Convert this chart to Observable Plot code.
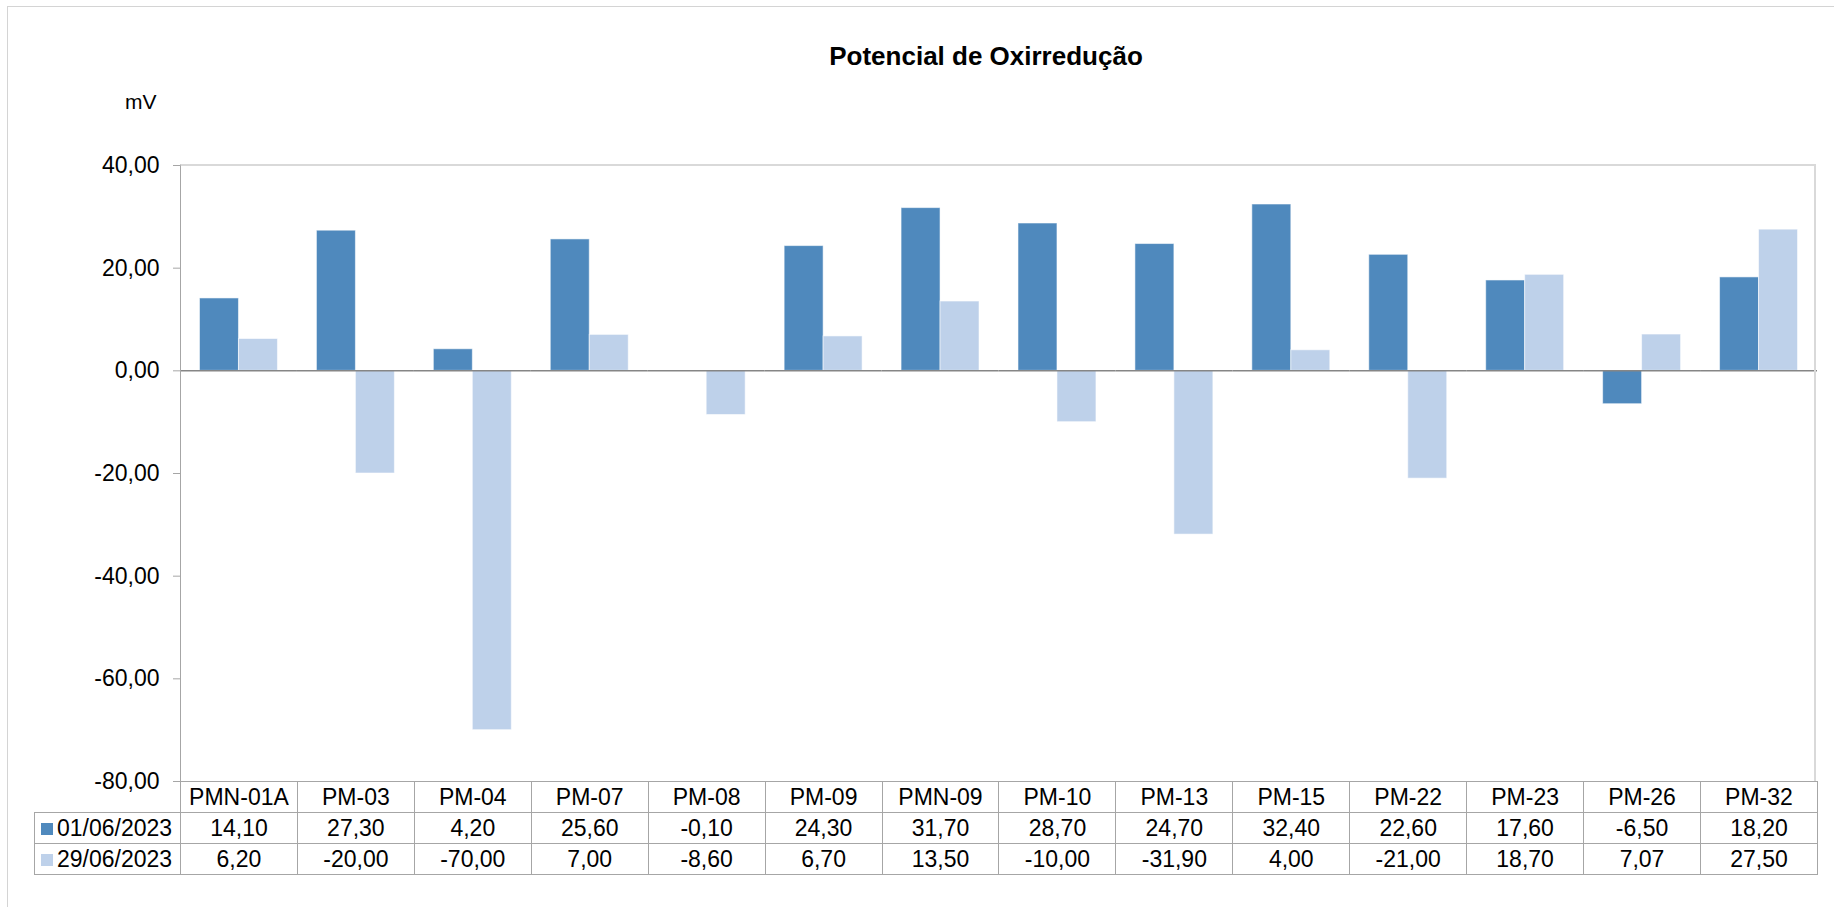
<!DOCTYPE html>
<html>
<head>
<meta charset="utf-8">
<script src="https://cdn.jsdelivr.net/npm/d3@7"></script>
<script src="https://cdn.jsdelivr.net/npm/@observablehq/plot@0.6"></script>
<style>
  html, body { margin: 0; padding: 0; background: #fff; }
  #wrap { position: relative; width: 1834px; height: 907px; overflow: hidden; font-family: "Liberation Sans", Arial, sans-serif; color: #000; }
  #outer { position: absolute; left: 7px; top: 6px; width: 1900px; height: 1000px; border-left: 1px solid #d4d4d4; border-top: 1px solid #d4d4d4; }
  #title { position: absolute; left: 0; width: 1972px; top: 41px; text-align: center; font-weight: bold; font-size: 26px; line-height: 30px; }
  #unit { position: absolute; left: 125px; top: 89px; font-size: 21px; line-height: 26px; }
  #chart { position: absolute; left: 0; top: 0; }
  #frame { position: absolute; left: 180px; top: 164px; width: 1636px; height: 617px; border-top: 2px solid #d9d9d9; border-right: 2px solid #d9d9d9; border-left: 1.5px solid #a6a6a6; box-sizing: border-box; pointer-events: none; }
  #table { position: absolute; left: 34px; top: 781px; border-collapse: collapse; table-layout: fixed; font-size: 23px; }
  #table td { border: 1.5px solid #a6a6a6; text-align: center; padding: 0; height: 30px; line-height: 28px; white-space: nowrap; overflow: hidden; }
  #table td.leg { text-align: left; padding-left: 6px; }
  #table td.corner { border-top: none; border-left: none; }
  .sw { display: inline-block; width: 12px; height: 12px; margin-right: 4px; vertical-align: 1px; }
</style>
</head>
<body>
<div id="wrap">
  <div id="outer"></div>
  <div id="chart"></div>
  <div id="frame"></div>
  <div id="title">Potencial de Oxirredução</div>
  <div id="unit">mV</div>
  <table id="table"></table>
</div>
<script>
const categories = ["PMN-01A","PM-03","PM-04","PM-07","PM-08","PM-09","PMN-09","PM-10","PM-13","PM-15","PM-22","PM-23","PM-26","PM-32"];
const seriesNames = ["01/06/2023","29/06/2023"];
const series1 = [14.10,27.30,4.20,25.60,-0.10,24.30,31.70,28.70,24.70,32.40,22.60,17.60,-6.50,18.20];
const series2 = [6.20,-20.00,-70.00,7.00,-8.60,6.70,13.50,-10.00,-31.90,4.00,-21.00,18.70,7.07,27.50];
const yTicks = [-80,-60,-40,-20,0,20,40];
const colors = ["#4f89bd","#bed1ea"];

const fmt = v => v.toFixed(2).replace(".", ",");

const data = [];
categories.forEach((c, i) => {
  data.push({cat: c, series: seriesNames[0], value: series1[i]});
  data.push({cat: c, series: seriesNames[1], value: series2[i]});
});

const chart = Plot.plot({
  width: 1834,
  height: 907,
  marginTop: 165,
  marginBottom: 126,
  marginLeft: 180,
  marginRight: 17,
  style: {fontFamily: "'Liberation Sans', Arial, sans-serif", fontSize: "23px", color: "#000", background: "transparent"},
  fx: {domain: categories, padding: 0, round: false, axis: null},
  x: {domain: seriesNames, paddingInner: 0, paddingOuter: 0.5, round: false, axis: null},
  y: {domain: [-80, 40], axis: null},
  color: {domain: seriesNames, range: colors},
  marks: [
    Plot.barY(data, {fx: "cat", x: "series", y: "value", fill: "series", stroke: "#ffffff", strokeOpacity: 0.55, strokeWidth: 1}),
    Plot.ruleY([0], {stroke: "#868686", strokeWidth: 1.5}),
    Plot.axisY({ticks: yTicks, tickFormat: fmt, tickSize: 7, tickPadding: 14, stroke: "#a6a6a6", fill: "#000", fontSize: 23, label: null, facetAnchor: "left"})
  ]
});
document.getElementById("chart").appendChild(chart);

// data table below the chart
const table = document.getElementById("table");
const colW = (1817 - 180) / categories.length;
let html = '<colgroup><col style="width:146px">' + categories.map(() => `<col style="width:${colW}px">`).join("") + '</colgroup>';
html += '<tr><td class="corner"></td>' + categories.map(c => `<td>${c}</td>`).join("") + '</tr>';
[series1, series2].forEach((s, k) => {
  html += `<tr><td class="leg"><span class="sw" style="background:${colors[k]}"></span>${seriesNames[k]}</td>` + s.map(v => `<td>${fmt(v)}</td>`).join("") + '</tr>';
});
table.innerHTML = html;
</script>
</body>
</html>
